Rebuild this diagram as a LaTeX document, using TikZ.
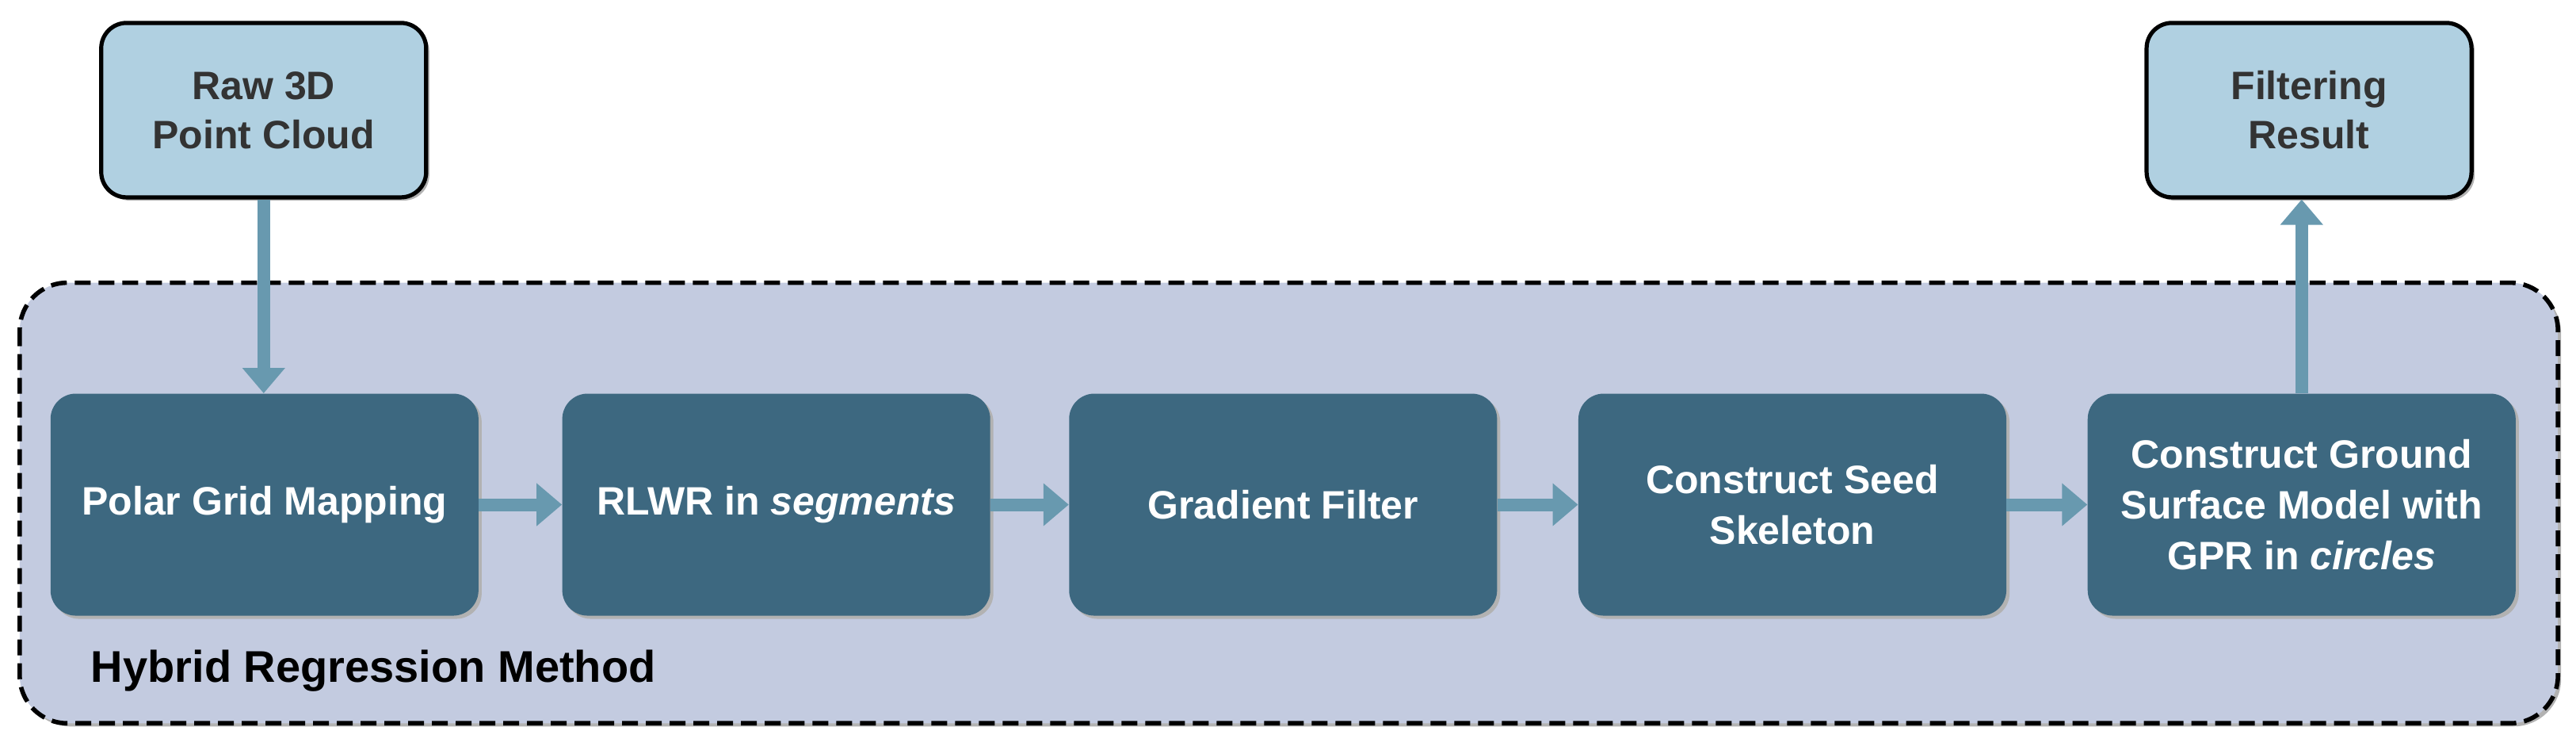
\documentclass[tikz,border=0pt]{standalone}
\usepackage{fontspec}
\setmainfont{Liberation Sans}
\usetikzlibrary{arrows.meta,shadows}
\definecolor{lightb}{HTML}{B0D0E1}
\definecolor{darkb}{HTML}{3D6880}
\definecolor{contb}{HTML}{C3CBE0}
\definecolor{arr}{HTML}{6899AF}
\definecolor{txt}{HTML}{333333}
\begin{document}
\begin{tikzpicture}[x=1.0365pt,y=-1.0365pt,
  shad/.style={drop shadow={shadow xshift=2pt,shadow yshift=-2pt,fill=black!30,opacity=1}},
  light/.style={draw=black,line width=2.6pt,fill=lightb,rounded corners=16pt,minimum width=205pt,minimum height=110pt,align=center,font=\fontsize{25}{31}\selectfont\bfseries,text=txt,shad},
  dark/.style={fill=darkb,rounded corners=16pt,minimum width=270pt,minimum height=140pt,align=center,font=\fontsize{25}{32}\selectfont\bfseries,text=white,shad},
  conn/.style={draw=arr,line width=8pt,-{Triangle[width=26pt,length=16pt]}}]
\useasboundingbox (0,0) rectangle (1568,456);
\draw[line width=2.8pt,dash pattern=on 10pt off 5pt,fill=contb,rounded corners=30pt,shad] (12,172) rectangle (1557,440);
\node[light] (raw) at (160.5,67) {Raw 3D\\Point Cloud};
\node[light] (res) at (1405.5,67) {Filtering\\Result};
\node[dark] (p) at (161,307) {Polar Grid Mapping};
\node[dark] (r) at (472.5,307) {RLWR in \textit{segments}};
\node[dark] (g) at (781,307) {Gradient Filter};
\node[dark] (s) at (1091,307) {Construct Seed\\Skeleton};
\node[dark] (c) at (1401,307) {Construct Ground\\Surface Model with\\GPR in \textit{circles}};
\node[anchor=west,font=\fontsize{28}{32}\selectfont\bfseries] (lab) at (52,408) {Hybrid Regression Method};
\draw[conn] (raw.south) -- (raw.south |- p.north);
\draw[conn] (p) -- (r);
\draw[conn] (r) -- (g);
\draw[conn] (g) -- (s);
\draw[conn] (s) -- (c);
\draw[conn] (c.north) -- (c.north |- res.south);
\end{tikzpicture}
\end{document}
